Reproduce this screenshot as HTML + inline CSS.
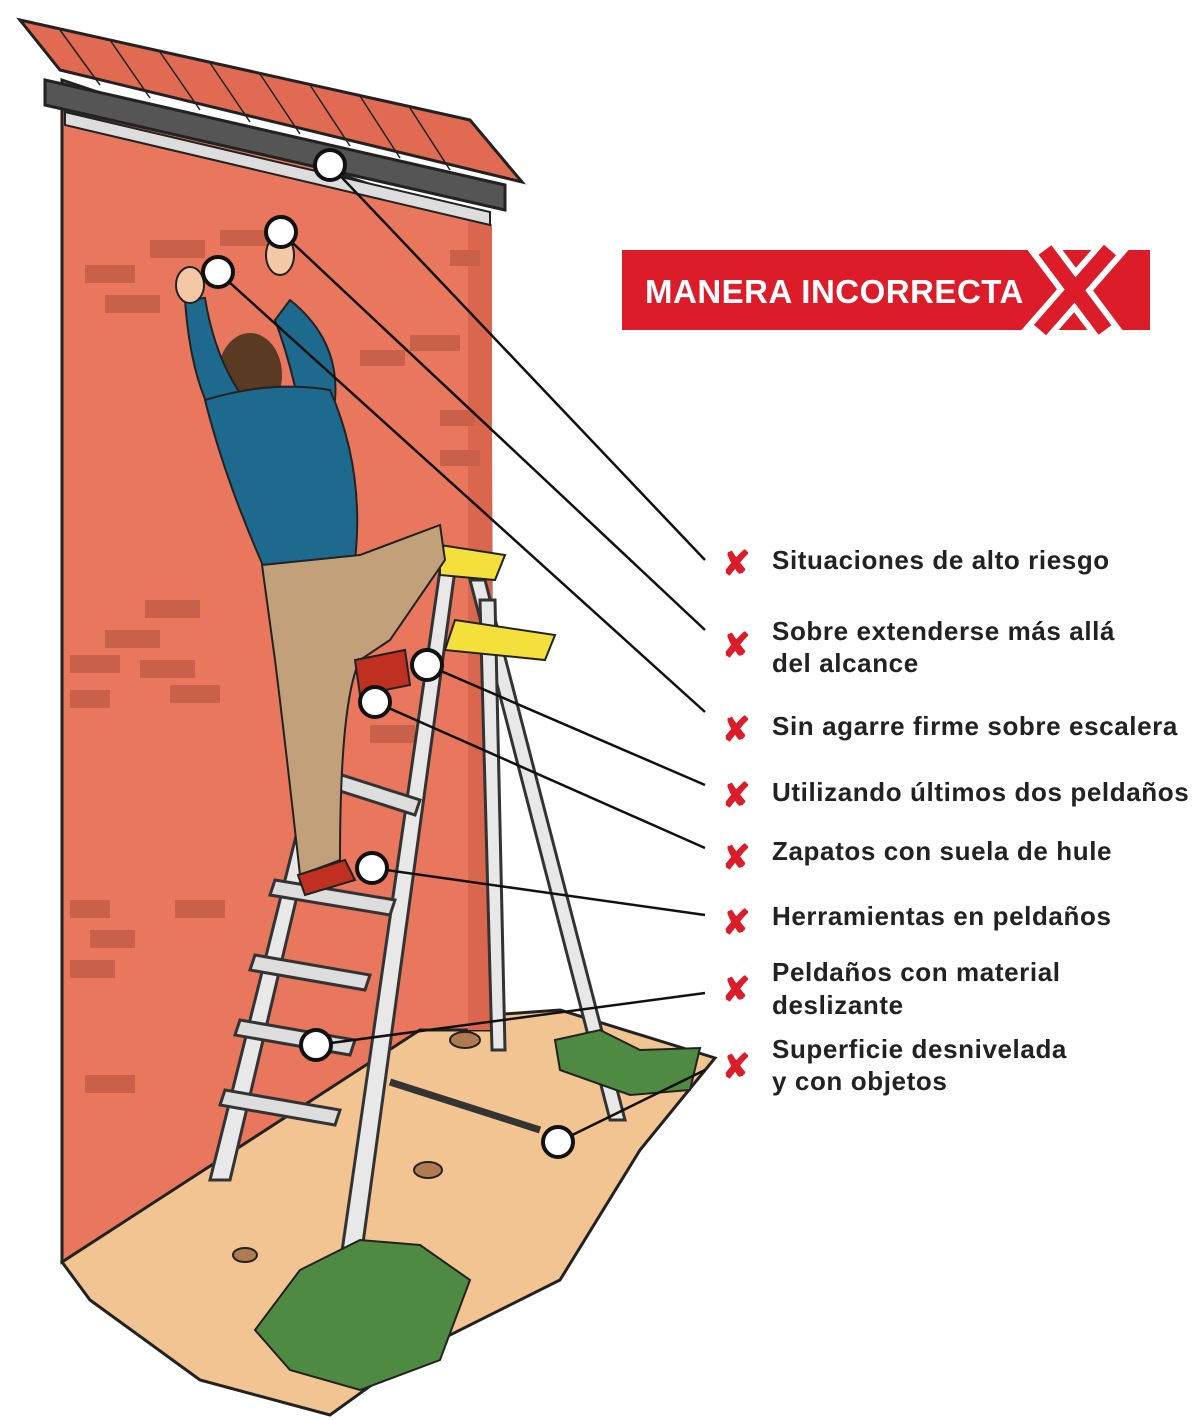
<!DOCTYPE html>
<html><head><meta charset="utf-8"><style>
html,body{margin:0;padding:0;background:#fff;}
svg{display:block;}
text{font-family:"Liberation Sans",Arial,sans-serif;font-weight:bold;}
</style></head><body>
<svg width="1200" height="1420" viewBox="0 0 1200 1420" xmlns="http://www.w3.org/2000/svg">
<!-- ground -->
<path d="M62 1262 L200 1170 L420 1020 L560 1010 L715 1058 L640 1150 L560 1280 L420 1350 L330 1415 L200 1380 L90 1300 Z" fill="#f2c491" stroke="#222" stroke-width="3"/>
<!-- wall -->
<path d="M62 80 L490 225 L492 1030 L420 1030 L62 1262 Z" fill="#e8775d" stroke="#222" stroke-width="3"/>
<path d="M468 218 L492 225 L492 1030 L468 1030 Z" fill="#d9664d"/>
<!-- bricks -->
<g fill="#c9604a">
<rect x="85" y="265" width="50" height="18"/><rect x="150" y="240" width="55" height="18"/><rect x="105" y="295" width="55" height="18"/>
<rect x="220" y="230" width="50" height="16"/><rect x="450" y="250" width="30" height="16"/><rect x="440" y="410" width="35" height="16"/>
<rect x="360" y="350" width="45" height="16"/><rect x="410" y="335" width="50" height="16"/><rect x="440" y="450" width="40" height="16"/>
<rect x="145" y="600" width="55" height="18"/><rect x="105" y="630" width="55" height="18"/><rect x="70" y="655" width="50" height="18"/>
<rect x="140" y="660" width="55" height="18"/><rect x="170" y="685" width="50" height="18"/><rect x="70" y="690" width="40" height="18"/>
<rect x="370" y="725" width="45" height="18"/><rect x="70" y="900" width="40" height="18"/><rect x="90" y="930" width="45" height="18"/>
<rect x="175" y="900" width="50" height="18"/><rect x="70" y="960" width="45" height="18"/><rect x="85" y="1075" width="50" height="18"/>
</g>
<!-- roof -->
<path d="M20 20 L470 120 L522 182 L60 70 Z" fill="#e06a52" stroke="#222" stroke-width="3"/>
<g stroke="#222" stroke-width="1.5"><line x1="60" y1="30" x2="100" y2="85"/><line x1="110" y1="40" x2="150" y2="98"/><line x1="160" y1="52" x2="200" y2="110"/><line x1="210" y1="63" x2="250" y2="122"/><line x1="260" y1="74" x2="300" y2="134"/><line x1="310" y1="85" x2="350" y2="146"/><line x1="360" y1="96" x2="400" y2="158"/><line x1="410" y1="108" x2="450" y2="170"/></g>
<path d="M45 80 L505 185 L505 210 L45 105 Z" fill="#555" stroke="#222" stroke-width="3"/>
<path d="M65 112 L490 212 L490 225 L65 125 Z" fill="#ddd" stroke="#222" stroke-width="2"/>
<!-- ladder -->
<g stroke="#333" stroke-width="3" fill="#e8e8e8">
<path d="M440 570 L455 570 L360 1265 L340 1265 Z"/>
<path d="M300 820 L315 820 L230 1180 L210 1180 Z"/>
<path d="M470 580 L485 580 L625 1120 L610 1120 Z"/>
<path d="M480 600 L495 600 L505 1050 L492 1050 Z"/>
</g>
<g stroke="#333" stroke-width="3" fill="#ddd">
<path d="M295 760 L420 800 L415 815 L290 775 Z"/><path d="M275 880 L395 900 L390 915 L270 895 Z"/>
<path d="M255 955 L370 975 L365 990 L250 970 Z"/><path d="M240 1020 L355 1040 L350 1055 L235 1035 Z"/>
<path d="M225 1090 L340 1110 L335 1125 L220 1105 Z"/>
</g>
<path d="M440 545 L505 555 L495 580 L440 575 Z" fill="#f4e03a" stroke="#222" stroke-width="2"/>
<path d="M455 620 L555 635 L545 660 L445 650 Z" fill="#f4e03a" stroke="#222" stroke-width="2"/>
<!-- grass -->
<path d="M555 1040 L600 1030 L640 1050 L700 1048 L690 1090 L630 1095 L560 1070 Z" fill="#4f8a43" stroke="#222" stroke-width="2"/>
<path d="M255 1330 L300 1270 L360 1240 L420 1245 L470 1280 L440 1360 L360 1390 L290 1370 Z" fill="#4f8a43" stroke="#222" stroke-width="2"/>
<!-- rocks / tools -->
<ellipse cx="465" cy="1040" rx="15" ry="8" fill="#b07a52" stroke="#222" stroke-width="2"/>
<ellipse cx="428" cy="1170" rx="14" ry="8" fill="#b07a52" stroke="#222" stroke-width="2"/>
<ellipse cx="245" cy="1255" rx="12" ry="7" fill="#b07a52" stroke="#222" stroke-width="2"/>
<path d="M390 1082 L540 1130" stroke="#333" stroke-width="7"/>
<!-- person -->
<ellipse cx="250" cy="375" rx="32" ry="42" fill="#5a3a22"/>
<path d="M210 410 Q190 370 185 300 L205 298 Q215 360 245 400 Z" fill="#1e6a8e" stroke="#222" stroke-width="2"/>
<path d="M290 300 Q340 340 335 400 L300 410 Q290 360 275 320 Z" fill="#1e6a8e" stroke="#222" stroke-width="2"/>
<path d="M205 400 Q270 380 330 390 Q365 470 355 560 L265 570 Q225 480 205 400 Z" fill="#1e6a8e" stroke="#222" stroke-width="2"/>
<ellipse cx="190" cy="285" rx="14" ry="18" fill="#f3c9a5" stroke="#222" stroke-width="2"/>
<ellipse cx="280" cy="255" rx="14" ry="20" fill="#f3c9a5" stroke="#222" stroke-width="2"/>
<path d="M262 565 L360 555 L440 525 L445 560 L390 640 L360 660 Q340 700 340 860 L300 875 Q285 740 275 660 Z" fill="#c2a07a" stroke="#222" stroke-width="2"/>
<path d="M298 875 L345 860 L355 880 L305 895 Z" fill="#c03020" stroke="#222" stroke-width="2"/>
<path d="M355 660 L405 650 L410 685 L360 695 Z" fill="#c03020" stroke="#222" stroke-width="2"/>
<!-- callout lines -->
<g stroke="#111" stroke-width="2.5">
<line x1="330" y1="165" x2="705" y2="560"/><line x1="281" y1="232" x2="705" y2="630"/>
<line x1="218" y1="272" x2="705" y2="712"/><line x1="427" y1="665" x2="705" y2="785"/>
<line x1="375" y1="702" x2="705" y2="848"/><line x1="372" y1="868" x2="705" y2="915"/>
<line x1="316" y1="1045" x2="705" y2="993"/><line x1="558" y1="1142" x2="705" y2="1070"/>
</g>
<g fill="#fff" stroke="#111" stroke-width="4">
<circle cx="330" cy="165" r="15"/><circle cx="281" cy="232" r="15"/><circle cx="218" cy="272" r="15"/>
<circle cx="427" cy="665" r="15"/><circle cx="375" cy="702" r="15"/><circle cx="372" cy="868" r="15"/>
<circle cx="316" cy="1045" r="15"/><circle cx="558" cy="1142" r="15"/>
</g>
<!-- banner -->
<rect x="622" y="250" width="528" height="80" fill="#dd1c2a"/>
<text x="645" y="303" font-size="33" fill="#fff" letter-spacing="0.5">MANERA INCORRECTA</text>
<g stroke="#fff" stroke-width="28" stroke-linecap="square"><line x1="1045" y1="250" x2="1105" y2="330"/><line x1="1110" y1="250" x2="1040" y2="330"/></g>
<g stroke="#dd1c2a" stroke-width="16"><line x1="1045" y1="250" x2="1105" y2="330"/><line x1="1110" y1="250" x2="1040" y2="330"/></g>
<!-- labels -->
<g fill="#dd1c2a" font-size="34">
<text x="722" y="575">✘</text><text x="722" y="657">✘</text><text x="722" y="741">✘</text>
<text x="722" y="807">✘</text><text x="722" y="869">✘</text><text x="722" y="934">✘</text>
<text x="722" y="1001">✘</text><text x="722" y="1078">✘</text>
</g>
<g fill="#222" font-size="26" letter-spacing="0.6">
<text x="772" y="569">Situaciones de alto riesgo</text>
<text x="772" y="640">Sobre extenderse más allá</text><text x="772" y="672">del alcance</text>
<text x="772" y="735">Sin agarre firme sobre escalera</text>
<text x="772" y="801">Utilizando últimos dos peldaños</text>
<text x="772" y="860">Zapatos con suela de hule</text>
<text x="772" y="925">Herramientas en peldaños</text>
<text x="772" y="981">Peldaños con material</text><text x="772" y="1014">deslizante</text>
<text x="772" y="1058">Superficie desnivelada</text><text x="772" y="1090">y con objetos</text>
</g>
</svg>
</body></html>
